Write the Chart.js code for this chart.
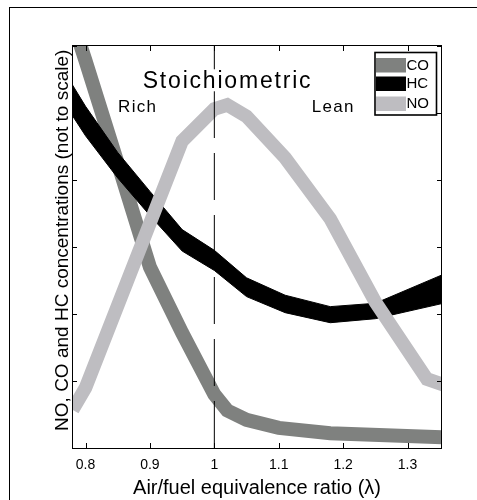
<!DOCTYPE html>
<html>
<head>
<meta charset="utf-8">
<script src="https://cdn.jsdelivr.net/npm/chart.js@4.4.1/dist/chart.umd.min.js"></script>
<style>
  html, body { margin: 0; padding: 0; background: #fff; }
  canvas { display: block; }
</style>
</head>
<body>
<canvas id="chart" width="477" height="500"></canvas>
<script>
// ---------- data ----------
const coLambda  = [0.779, 0.8, 0.85, 0.9, 0.95, 1.0, 1.02, 1.05, 1.1, 1.18, 1.36];
const coValues  = [6.4, 5.78, 4.25, 2.7, 1.72, 0.8, 0.56, 0.42, 0.3, 0.22, 0.16];

const hcLambda  = [0.779, 0.8, 0.85, 0.9, 0.95, 1.0, 1.05, 1.11, 1.18, 1.25, 1.36];
const hcUpper   = [5.43, 5.10, 4.41, 3.83, 3.26, 2.95, 2.54, 2.28, 2.11, 2.16, 2.61];
const hcLower   = [4.97, 4.66, 4.03, 3.47, 2.94, 2.65, 2.26, 2.02, 1.87, 1.93, 2.17];

const noLambda  = [0.78, 0.8, 0.95, 1.0, 1.02, 1.05, 1.11, 1.18, 1.25, 1.33, 1.36];
const noValues  = [0.57, 0.9, 4.58, 5.06, 5.12, 4.95, 4.33, 3.42, 2.18, 1.03, 0.93];

const stoichLambda = 1.0;
const xTickValues = [0.8, 0.9, 1.0, 1.1, 1.2, 1.3];
const xTickLabels = ['0.8', '0.9', '1', '1.1', '1.2', '1.3'];
const yTickValues = [0, 1, 2, 3, 4, 5, 6];
const legendLabels = ['CO', 'HC', 'NO'];
const yTitle = 'NO, CO and HC concentrations (not to scale)';

// ---------- styles ----------
const CO_COLOR = '#7f817f';
const HC_COLOR = '#000000';
const NO_COLOR = '#bebdc1';
const FONT = "'Liberation Sans', Arial, Helvetica, sans-serif";
const NARROW = "'Liberation Sans Narrow', 'Liberation Sans', Arial, sans-serif";

const pts = (xs, ys) => xs.map((x, i) => ({ x: x, y: ys[i] }));

const deco = {
  id: 'deco',
  beforeDraw(chart) {
    const ctx = chart.ctx;
    ctx.save();
    ctx.fillStyle = '#fff';
    ctx.fillRect(0, 0, chart.width, chart.height);
    ctx.strokeStyle = '#000';
    ctx.lineWidth = 1;
    ctx.strokeRect(9.5, 7.5, chart.width + 20, chart.height + 20);
    ctx.restore();
  },
  afterDatasetsDraw(chart) {
    const { ctx, chartArea: a, scales: { x, y } } = chart;
    ctx.save();

    // y-axis title (placed as in the reference, slightly above axis centre)
    ctx.save();
    ctx.translate(62.5, y.getPixelForValue(3.1));
    ctx.rotate(-Math.PI / 2);
    ctx.font = '19px ' + FONT;
    ctx.fillStyle = '#000';
    ctx.textAlign = 'center';
    ctx.textBaseline = 'middle';
    ctx.fillText(yTitle, 0, 0);
    ctx.restore();

    // annotations
    ctx.fillStyle = '#000';
    ctx.textBaseline = 'alphabetic';
    ctx.font = '23px ' + FONT;
    ctx.letterSpacing = '1.8px';
    const sx = x.getPixelForValue(1.0205), sy = y.getPixelForValue(5.369);
    const sw = ctx.measureText('Stoichiometric').width;
    ctx.fillStyle = '#fff';
    ctx.fillRect(sx - sw / 2 - 2, sy - 19, sw + 4, 22);
    ctx.fillStyle = '#000';
    ctx.textAlign = 'center';
    ctx.fillText('Stoichiometric', sx, sy);
    ctx.font = '17px ' + FONT;
    ctx.letterSpacing = '1.3px';
    ctx.textAlign = 'left';
    ctx.fillText('Rich', x.getPixelForValue(0.8505), y.getPixelForValue(5.01));
    ctx.fillText('Lean', x.getPixelForValue(1.1512), y.getPixelForValue(5.01));
    ctx.letterSpacing = '0px';

    // plot frame
    ctx.strokeStyle = '#000';
    ctx.lineWidth = 1;
    ctx.strokeRect(Math.round(a.left) + 0.5, Math.round(a.top) - 0.5,
                   Math.round(a.right - a.left) - 1, Math.round(a.bottom - a.top) + 1);

    // inward tick marks on all four sides
    ctx.beginPath();
    xTickValues.forEach(v => {
      const px = Math.round(x.getPixelForValue(v)) + 0.5;
      ctx.moveTo(px, a.bottom); ctx.lineTo(px, a.bottom - 5);
      ctx.moveTo(px, a.top); ctx.lineTo(px, a.top + 5);
    });
    yTickValues.forEach(v => {
      const py = Math.round(y.getPixelForValue(v)) + 0.5;
      ctx.moveTo(a.left, py); ctx.lineTo(a.left + 5, py);
      ctx.moveTo(a.right, py); ctx.lineTo(a.right - 5, py);
    });
    ctx.stroke();

    // legend box
    const colors = [CO_COLOR, HC_COLOR, NO_COLOR];
    const rows = [65, 83.5, 103.5];
    ctx.fillStyle = '#fff';
    ctx.fillRect(375, 52.5, 61.5, 62.5);
    ctx.lineWidth = 1.6;
    ctx.strokeRect(375, 52.5, 61.5, 62.5);
    ctx.font = '15px ' + FONT;
    ctx.textBaseline = 'middle';
    ctx.textAlign = 'left';
    legendLabels.forEach((lab, i) => {
      ctx.fillStyle = colors[i];
      ctx.fillRect(376, rows[i] - 7, 30, 14.5);
      ctx.fillStyle = '#000';
      ctx.fillText(lab, 406.5, rows[i] + 0.5);
    });
    ctx.restore();
  }
};

new Chart(document.getElementById('chart'), {
  type: 'line',
  data: {
    datasets: [
      { label: 'Stoichiometric', data: pts([stoichLambda, stoichLambda], [0, 6]),
        borderColor: '#000', borderWidth: 1, borderDash: [47, 15], fill: false, order: 0 },
      { label: 'NO', data: pts(noLambda, noValues),
        borderColor: NO_COLOR, borderWidth: 13.5, fill: false, order: 1 },
      { label: 'HC', data: pts(hcLambda, hcUpper),
        borderColor: HC_COLOR, backgroundColor: HC_COLOR, borderWidth: 1, fill: '+1', order: 2 },
      { label: 'HC lower', data: pts(hcLambda, hcLower),
        borderColor: HC_COLOR, borderWidth: 1, fill: false, order: 2 },
      { label: 'CO', data: pts(coLambda, coValues),
        borderColor: CO_COLOR, borderWidth: 14, fill: false, order: 3 }
    ]
  },
  options: {
    responsive: false,
    animation: false,
    devicePixelRatio: 1,
    layout: { padding: { top: 46, right: 35, left: 0, bottom: 0 } },
    elements: { point: { radius: 0, hoverRadius: 0 }, line: { tension: 0, borderJoinStyle: 'miter' } },
    plugins: { legend: { display: false }, tooltip: { enabled: false } },
    events: [],
    scales: {
      x: {
        type: 'linear', min: 0.779, max: 1.3535,
        afterBuildTicks: s => { s.ticks = xTickValues.map(v => ({ value: v })); },
        afterFit: s => { s.height = 52; },
        grid: { display: false, drawTicks: false },
        border: { display: false },
        ticks: {
          autoSkip: false, maxRotation: 0, padding: 9, color: '#000',
          font: { family: NARROW, size: 14 },
          callback: (v) => { const i = xTickValues.findIndex(t => Math.abs(t - v) < 1e-9); return i >= 0 ? xTickLabels[i] : ''; }
        },
        title: { display: true, text: 'Air/fuel equivalence ratio (λ)', color: '#000',
                 font: { family: FONT, size: 20 }, padding: 0 }
      },
      y: {
        type: 'linear', min: 0, max: 6,
        afterBuildTicks: s => { s.ticks = yTickValues.map(v => ({ value: v })); },
        afterFit: s => { s.width = 72; },
        grid: { display: false, drawTicks: false },
        border: { display: false },
        ticks: { display: false },
        title: { display: false }
      }
    }
  },
  plugins: [deco]
});
</script>
</body>
</html>
